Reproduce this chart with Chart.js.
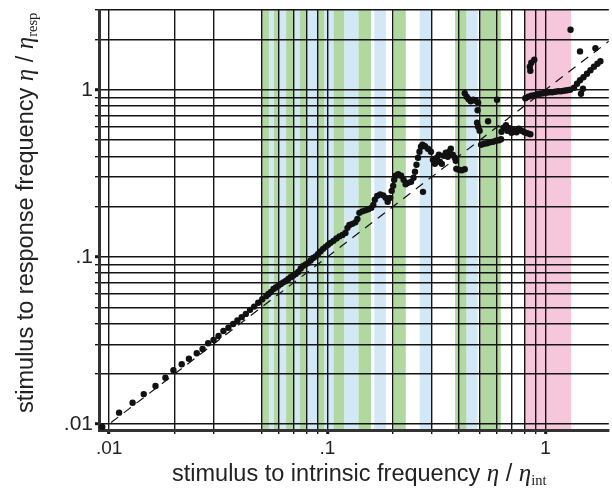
<!DOCTYPE html>
<html>
<head>
<meta charset="utf-8">
<script src="https://cdn.jsdelivr.net/npm/chart.js@4.4.1/dist/chart.umd.min.js"></script>
<style>
  html, body { margin: 0; padding: 0; background: #fff; }
</style>
</head>
<body>
<canvas id="chart" width="612" height="488"></canvas>
<script>
// axis ranges (log scales)
const xMin = 0.00898, xMax = 1.95;
const yMin = 0.00921, yMax = 3;

// grid / tick positions
const xGrid = [0.01, 0.02, 0.03, 0.05, 0.06, 0.07, 0.08, 0.09,
               0.1, 0.2, 0.3, 0.4, 0.5, 0.6, 0.7, 0.8, 0.9, 1];
const yGrid = [0.01, 0.02, 0.03, 0.04, 0.05, 0.06, 0.07, 0.08, 0.09,
               0.1, 0.2, 0.3, 0.4, 0.5, 0.6, 0.7, 0.8, 0.9, 1, 2, 3];
const labelValues = [0.01, 0.1, 1];
const labelTexts = ['.01', '.1', '1'];

// shaded locking bands (stimulus to intrinsic frequency)
const bandStart = [0.0503, 0.0540, 0.0569, 0.0604, 0.0647, 0.0707, 0.0747, 0.0798, 0.0903, 0.0971,
                   0.1067, 0.1198, 0.1388, 0.1641, 0.2018, 0.2650, 0.3849, 0.4351, 0.5025, 0.8023];
const bandEnd   = [0.0540, 0.0569, 0.0604, 0.0647, 0.0707, 0.0747, 0.0798, 0.0903, 0.0971, 0.1067,
                   0.1198, 0.1388, 0.1585, 0.1855, 0.2288, 0.2993, 0.4351, 0.4883, 0.6237, 1.310];
const bandKind  = ['g', 'b', 'g', 'b', 'g', 'b', 'g', 'b', 'g', 'b',
                   'g', 'b', 'g', 'b', 'g', 'b', 'g', 'b', 'g', 'p'];
const bandColors = { g: '#b2d8a2', b: '#d3e8f7', p: '#f6c6da' };

// measured points [stimulus/intrinsic, stimulus/response]
const lowBranch = [
  [0.0093, 0.0096], [0.0111, 0.0117], [0.0128, 0.0134], [0.0144, 0.0151], [0.0163, 0.0169],
  [0.0181, 0.0189], [0.0197, 0.0210], [0.0215, 0.0228], [0.0232, 0.0246], [0.0252, 0.0265],
  [0.0268, 0.0281], [0.0284, 0.0304], [0.0301, 0.0318], [0.0317, 0.0336], [0.0334, 0.0360],
  [0.0352, 0.0377], [0.0370, 0.0397], [0.0387, 0.0416], [0.0405, 0.0436], [0.0423, 0.0456],
  [0.0442, 0.0482], [0.0462, 0.0504], [0.0482, 0.0532], [0.0503, 0.0558], [0.0525, 0.0584]
];
const lockedRamp = [
  [0.0537, 0.0600], [0.0551, 0.0617], [0.0566, 0.0643], [0.0581, 0.0657], [0.0596, 0.0671],
  [0.0612, 0.0689], [0.0628, 0.0704], [0.0645, 0.0718], [0.0662, 0.0738], [0.0680, 0.0759],
  [0.0698, 0.0775], [0.0716, 0.0791], [0.0735, 0.0813], [0.0755, 0.0853], [0.0775, 0.0884],
  [0.0796, 0.0902], [0.0817, 0.0921], [0.0838, 0.0953], [0.0861, 0.0986], [0.0884, 0.1007],
  [0.0907, 0.1043], [0.0931, 0.1079], [0.0956, 0.1117], [0.0981, 0.1148], [0.1007, 0.1180]
];
const staircase = [
  [0.1034, 0.1213], [0.1067, 0.1247], [0.1101, 0.1290], [0.1137, 0.1327], [0.1173, 0.1354],
  [0.1210, 0.1392], [0.1236, 0.1492], [0.1262, 0.1554], [0.1302, 0.1576], [0.1344, 0.1609],
  [0.1373, 0.1688], [0.1402, 0.1834], [0.1447, 0.1873], [0.1493, 0.1898], [0.1541, 0.1925],
  [0.1590, 0.1965], [0.1624, 0.2048], [0.1650, 0.2195], [0.1693, 0.2318], [0.1747, 0.2367],
  [0.1803, 0.2335], [0.1851, 0.2256], [0.1890, 0.2135], [0.1941, 0.2256], [0.1972, 0.2484],
  [0.2003, 0.2661], [0.2024, 0.2891], [0.2056, 0.3055], [0.2111, 0.3119], [0.2178, 0.3055],
  [0.2236, 0.2891], [0.2284, 0.2717], [0.2344, 0.2774], [0.2419, 0.2812], [0.2483, 0.2972],
  [0.2522, 0.3228], [0.2562, 0.3556], [0.2603, 0.3915], [0.2644, 0.4253], [0.2686, 0.4557],
  [0.2729, 0.4684], [0.2802, 0.4588], [0.2891, 0.4432], [0.2744, 0.2450]
];
const midCluster = [
  [0.2984, 0.4253], [0.3047, 0.3808], [0.3111, 0.3604], [0.3177, 0.3915], [0.3244, 0.4081],
  [0.3279, 0.3705], [0.3348, 0.3604], [0.3419, 0.4025], [0.3492, 0.4195], [0.3566, 0.3970],
  [0.3622, 0.4253], [0.3680, 0.4432], [0.3758, 0.4081], [0.3838, 0.3915], [0.3879, 0.3757],
  [0.3899, 0.3364], [0.4003, 0.3319], [0.4130, 0.3296], [0.4262, 0.3342]
];
const upperJumps = [
  [0.4262, 0.9529], [0.4352, 0.9081], [0.4444, 0.8772], [0.4538, 0.8534], [0.4659, 0.8711],
  [0.4783, 0.8593], [0.4910, 0.8362], [0.4884, 0.7536], [0.4858, 0.6345], [0.4910, 0.6004],
  [0.4988, 0.5682], [0.5453, 0.6478], [0.5995, 0.8711]
];
const lowerLine = [
  [0.5068, 0.4684], [0.5230, 0.4750], [0.5397, 0.4783], [0.5569, 0.4849], [0.5747, 0.4883],
  [0.5931, 0.4951], [0.6119, 0.4985], [0.6252, 0.5054]
];
const highCluster = [
  [0.6285, 0.5604], [0.6418, 0.5922], [0.6589, 0.6130], [0.6694, 0.5682], [0.6836, 0.5881],
  [0.6981, 0.5528], [0.7167, 0.5721], [0.7358, 0.5566], [0.7551, 0.5840], [0.7750, 0.5682],
  [0.7998, 0.5566], [0.8254, 0.5490], [0.8518, 0.5415]
];
const pinkBranch = [
  [0.8082, 0.8894], [0.8341, 0.9081], [0.8607, 0.9206], [0.8883, 0.9271], [0.9166, 0.9399],
  [0.9460, 0.9463], [0.9761, 0.9529], [1.0074, 0.9594], [1.0396, 0.9661], [1.0728, 0.9661],
  [1.1071, 0.9728], [1.1426, 0.9795], [1.1790, 0.9795], [1.2167, 0.9863], [1.2555, 0.9931],
  [1.2955, 1.0000],
  [0.8883, 1.5124], [0.8607, 1.4510], [0.8472, 1.3732], [0.8518, 1.2995]
];
const topRight = [
  [1.3023, 2.2876], [1.4390, 1.6959], [1.6932, 1.7726],
  [1.3516, 1.0280], [1.3945, 1.0863], [1.4390, 1.1400], [1.4928, 1.1882], [1.5488, 1.2468],
  [1.6066, 1.3084], [1.6670, 1.3732], [1.7292, 1.4311], [1.7846, 1.4815],
  [1.4541, 0.9463], [1.4850, 1.0139]
];
// identity line eta/eta_resp = eta/eta_int
const diagonal = [[0.0102, 0.0102], [1.95, 1.95]];

const allPoints = [].concat(lowBranch, lockedRamp, staircase, midCluster, upperJumps,
                            lowerLine, highCluster, pinkBranch, topRight);

const SANS = '"Liberation Sans", Arial, sans-serif';
const SERIF = '"Liberation Serif", "Times New Roman", serif';
const INK = '#222';

const isDecade = v => labelValues.some(d => Math.abs(d - v) < 1e-9);

const bandsPlugin = {
  id: 'bands',
  beforeDraw(chart) {
    const { ctx, chartArea, scales: { x } } = chart;
    ctx.save();
    bandStart.forEach((s, i) => {
      const l = x.getPixelForValue(s);
      const r = x.getPixelForValue(bandEnd[i]);
      ctx.fillStyle = bandColors[bandKind[i]];
      ctx.fillRect(l, chartArea.top, r - l, chartArea.bottom - chartArea.top);
    });
    ctx.restore();
  }
};

function drawParts(ctx, parts) {
  let cx = 0;
  parts.forEach(p => {
    ctx.font = p.font;
    ctx.fillText(p.text, cx, p.dy || 0);
    cx += ctx.measureText(p.text).width;
  });
}

const titlesPlugin = {
  id: 'titles',
  afterDraw(chart) {
    const ctx = chart.ctx;
    const main = '23.5px ' + SANS;
    const eta = 'italic 25px ' + SERIF;
    const sub = '14.5px ' + SERIF;
    ctx.save();
    ctx.fillStyle = INK;
    ctx.textBaseline = 'alphabetic';
    ctx.textAlign = 'left';

    ctx.save();
    ctx.translate(172, 481);
    drawParts(ctx, [
      { text: 'stimulus to intrinsic frequency ', font: main },
      { text: 'η', font: eta },
      { text: ' / ', font: main },
      { text: 'η', font: eta },
      { text: 'int', font: sub, dy: 4 }
    ]);
    ctx.restore();

    ctx.save();
    ctx.translate(33, 413);
    ctx.rotate(-Math.PI / 2);
    drawParts(ctx, [
      { text: 'stimulus to response frequency ', font: main },
      { text: 'η', font: eta },
      { text: ' / ', font: main },
      { text: 'η', font: eta },
      { text: 'resp', font: sub, dy: 4 }
    ]);
    ctx.restore();
    ctx.restore();
  }
};

function tickLabel(value) {
  const i = labelValues.findIndex(d => Math.abs(d - value) < 1e-9);
  return i >= 0 ? labelTexts[i] : '';
}

new Chart(document.getElementById('chart'), {
  type: 'scatter',
  data: {
    datasets: [{
      data: allPoints.map(p => ({ x: p[0], y: p[1] })),
      backgroundColor: '#111',
      borderWidth: 0,
      pointRadius: 3.2,
      pointHoverRadius: 3.2
    }, {
      type: 'line',
      data: diagonal.map(p => ({ x: p[0], y: p[1] })),
      borderColor: '#111',
      borderWidth: 1.2,
      borderDash: [9, 7],
      pointRadius: 0,
      fill: false
    }]
  },
  options: {
    responsive: false,
    animation: false,
    devicePixelRatio: 1,
    layout: { padding: { top: 10, right: 0, bottom: 0, left: 0 } },
    plugins: { legend: { display: false }, tooltip: { enabled: false } },
    scales: {
      x: {
        type: 'logarithmic',
        min: xMin,
        max: xMax,
        afterBuildTicks: s => { s.ticks = xGrid.map(v => ({ value: v })); },
        afterFit: s => { s.height = 58; s.paddingLeft = 0; s.paddingRight = 0; },
        border: { color: '#333', width: 3 },
        grid: {
          color: '#151515',
          lineWidth: 1.4,
          tickLength: 4,
          tickColor: '#151515',
          tickWidth: c => (isDecade(c.tick.value) ? 3 : 1.4)
        },
        ticks: {
          autoSkip: false,
          maxRotation: 0,
          padding: 3,
          color: INK,
          font: { family: SANS, size: 19 },
          callback: tickLabel
        }
      },
      y: {
        type: 'logarithmic',
        min: yMin,
        max: yMax,
        afterBuildTicks: s => { s.ticks = yGrid.map(v => ({ value: v })); },
        afterFit: s => { s.width = 99; s.paddingTop = 0; s.paddingBottom = 0; },
        border: { color: '#333', width: 3 },
        grid: {
          color: '#151515',
          lineWidth: 1.4,
          tickLength: 4,
          tickColor: '#151515',
          tickWidth: c => (isDecade(c.tick.value) ? 3 : 1.4)
        },
        ticks: {
          autoSkip: false,
          padding: 2,
          color: INK,
          font: { family: SANS, size: 21 },
          callback: tickLabel
        }
      }
    }
  },
  plugins: [bandsPlugin, titlesPlugin]
});
</script>
</body>
</html>
